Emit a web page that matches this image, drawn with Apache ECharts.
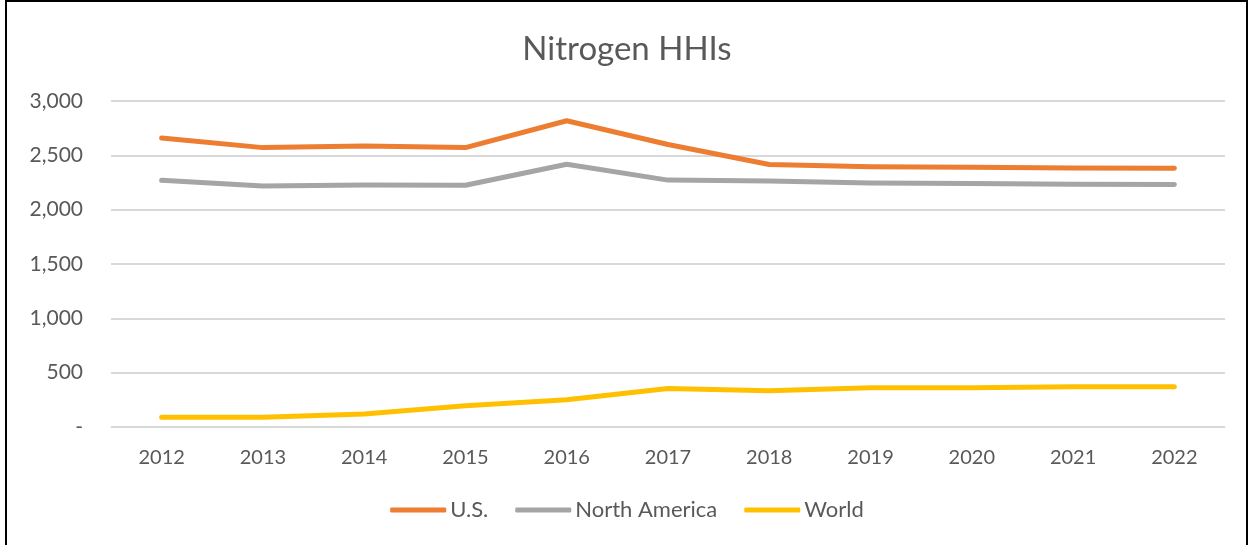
<!DOCTYPE html>
<html><head><meta charset="utf-8">
<script src="https://cdn.jsdelivr.net/npm/echarts@6/dist/echarts.min.js"></script>
<style>
html,body{margin:0;padding:0;background:#fff;}
#frame{position:absolute;left:5px;top:0;width:1243px;height:560px;border:2px solid #000;box-sizing:border-box;}
#c{position:absolute;left:0;top:0;width:1254px;height:545px;}
</style></head>
<body><div id="frame"></div><div id="c"></div>
<script>
const years = ['2012','2013','2014','2015','2016','2017','2018','2019','2020','2021','2022'];
const us = [2660, 2571, 2587, 2571, 2818, 2600, 2416, 2394, 2391, 2383, 2382];
const northAmerica = [2270, 2217, 2227, 2225, 2418, 2272, 2264, 2245, 2241, 2235, 2232];
const world = [89, 89, 120, 196, 250, 354, 334, 362, 362, 370, 370];

const font = 'Lato, "Open Sans", sans-serif';
const chart = echarts.init(document.getElementById('c'));
const mk = (name, data, color) => ({
  name, type: 'line', data, symbol: 'none', smooth: false,
  lineStyle: {color, width: 5, cap: 'round', join: 'round'}, itemStyle: {color}
});
chart.setOption({
  animation: false,
  title: {text: 'Nitrogen HHIs', left: 'center', top: 28,
    textStyle: {fontFamily: font, fontSize: 33, fontWeight: 'normal', color: '#595959'}},
  legend: {bottom: 19, left: 'center', itemWidth: 56, itemHeight: 5, itemGap: 27,
    icon: 'roundRect',
    textStyle: {fontFamily: font, fontSize: 22, color: '#595959', padding: [0,0,0,-1]},
    data: ['U.S.', 'North America', 'World']},
  grid: {left: 111, right: 29, top: 101, bottom: 118, containLabel: false},
  xAxis: {type: 'category', data: years, boundaryGap: true,
    axisLine: {show: true, lineStyle: {color: '#d9d9d9', width: 1}},
    axisTick: {show: false},
    axisLabel: {fontFamily: font, fontSize: 20, color: '#595959', margin: 21}},
  yAxis: {type: 'value', min: 0, max: 3000, interval: 500,
    axisLine: {show: false}, axisTick: {show: false},
    splitLine: {lineStyle: {color: '#d9d9d9', width: 2}},
    axisLabel: {fontFamily: font, fontSize: 21, color: '#595959', margin: 28,
      formatter: v => v === 0 ? '-' : v.toLocaleString('en-US')}},
  series: [mk('U.S.', us, '#ed7d31'), mk('North America', northAmerica, '#a5a5a5'), mk('World', world, '#ffc000')]
});
</script></body></html>
